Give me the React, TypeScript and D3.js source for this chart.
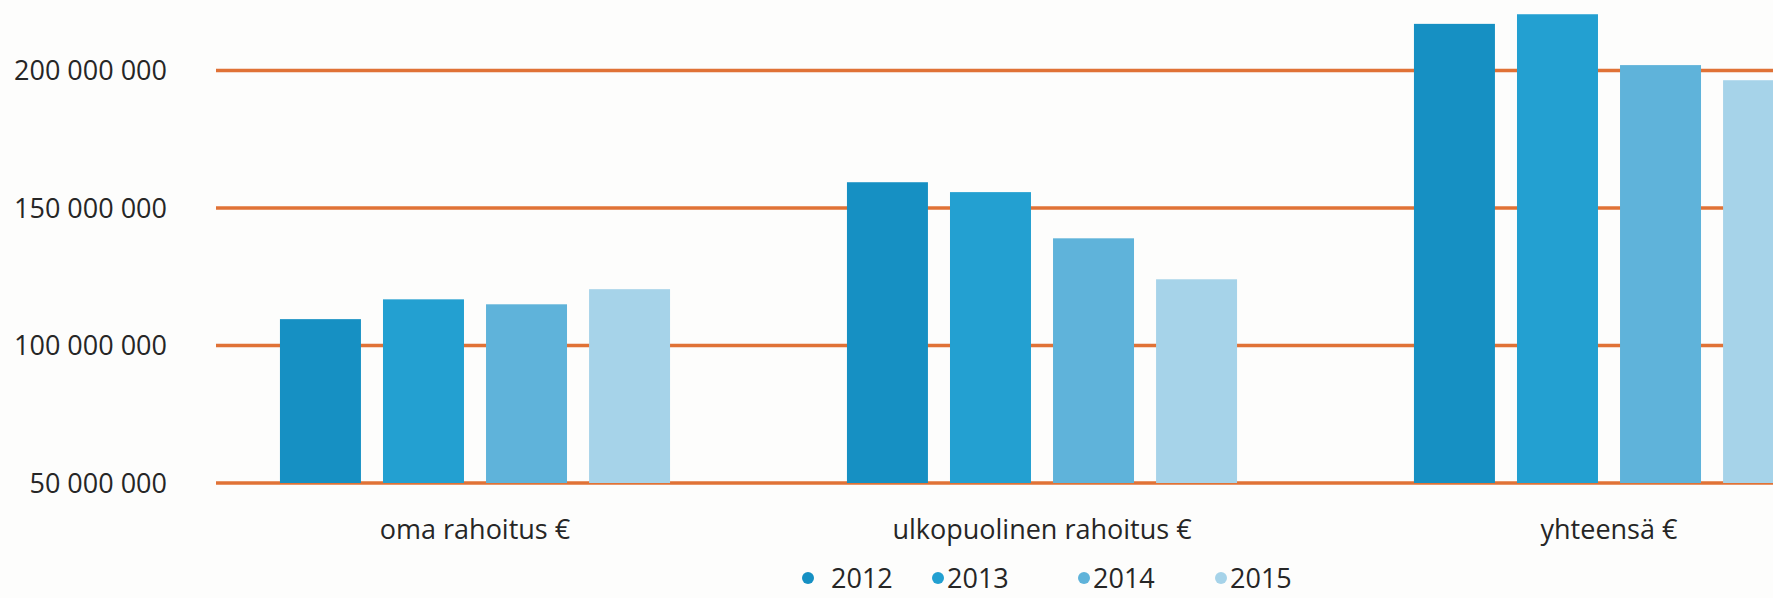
import React, { useEffect, useRef } from 'react';
import * as d3 from 'd3';

const categories = ['oma rahoitus €', 'ulkopuolinen rahoitus €', 'yhteensä €'];
const years = ['2012', '2013', '2014', '2015'];

// values per year, in euros
const values2012 = [109600000, 159400000, 217000000];
const values2013 = [116800000, 155800000, 220500000];
const values2014 = [115000000, 139000000, 202000000];
const values2015 = [120500000, 124100000, 196500000];

const yTicks = [50000000, 100000000, 150000000, 200000000];

const colors = ['#1690c3', '#23a0d1', '#5fb3da', '#a6d3e9'];

const App: React.FC = () => {
  const svgRef = useRef<SVGSVGElement>(null);
  const width = 1773;
  const height = 598;

  useEffect(() => {
    document.body.style.margin = '0';
    if (!svgRef.current) return;

    const svg = d3.select(svgRef.current);
    svg.selectAll('*').remove();

    const font = '"Open Sans", sans-serif';
    const textColor = '#262626';

    svg.append('rect')
      .attr('width', width)
      .attr('height', height)
      .attr('fill', '#fdfdfc');

    const series = [values2012, values2013, values2014, values2015];
    const data = [];
    categories.forEach((cat, ci) => {
      years.forEach((yr, yi) => {
        data.push({ cat, year: yr, yi, value: series[yi][ci] });
      });
    });

    // scales
    const y = d3.scaleLinear()
      .domain([50000000, 200000000])
      .range([483, 70.6]);

    const x0 = d3.scaleBand()
      .domain(categories)
      .range([191.5, 1892.5])
      .paddingInner(0.312)
      .paddingOuter(0.156);

    const x1 = d3.scaleBand()
      .domain(years)
      .range([0, x0.bandwidth()])
      .paddingInner(0.214);

    // gridlines
    svg.append('g')
      .selectAll('line')
      .data(yTicks)
      .join('line')
      .attr('x1', 216)
      .attr('x2', width)
      .attr('y1', d => y(d))
      .attr('y2', d => y(d))
      .attr('stroke', '#e07236')
      .attr('stroke-width', 3.5);

    // y tick labels
    const fmt = (v: number) => d3.format(',')(v).replace(/,/g, ' ');
    svg.append('g')
      .selectAll('text')
      .data(yTicks)
      .join('text')
      .attr('x', 167)
      .attr('y', d => y(d))
      .attr('dy', '0.36em')
      .attr('text-anchor', 'end')
      .attr('font-family', font)
      .attr('font-size', '27px')
      .attr('fill', textColor)
      .text(d => fmt(d));

    // bars
    svg.append('g')
      .selectAll('rect')
      .data(data)
      .join('rect')
      .attr('x', d => (x0(d.cat) || 0) + (x1(d.year) || 0))
      .attr('y', d => y(d.value))
      .attr('width', x1.bandwidth())
      .attr('height', d => y(50000000) - y(d.value))
      .attr('fill', d => colors[d.yi]);

    // category labels
    svg.append('g')
      .selectAll('text')
      .data(categories)
      .join('text')
      .attr('x', d => (x0(d) || 0) + x0.bandwidth() / 2)
      .attr('y', 539)
      .attr('text-anchor', 'middle')
      .attr('font-family', font)
      .attr('font-size', '27px')
      .attr('fill', textColor)
      .text(d => d);

    // legend
    const legendX = [808, 938, 1084, 1221];
    const legend = svg.append('g');
    years.forEach((yr, i) => {
      const item = legend.append('g')
        .attr('transform', `translate(${legendX[i]}, 588)`);
      item.append('circle')
        .attr('cx', 0)
        .attr('cy', -10)
        .attr('r', 6)
        .attr('fill', colors[i]);
      item.append('text')
        .attr('x', i === 0 ? 23 : 9)
        .attr('y', 0)
        .attr('font-family', font)
        .attr('font-size', '27px')
        .attr('fill', textColor)
        .text(yr);
    });
  }, []);

  return (
    <svg
      ref={svgRef}
      width={width}
      height={height}
      style={{ display: 'block' }}
    />
  );
};

export default App;
